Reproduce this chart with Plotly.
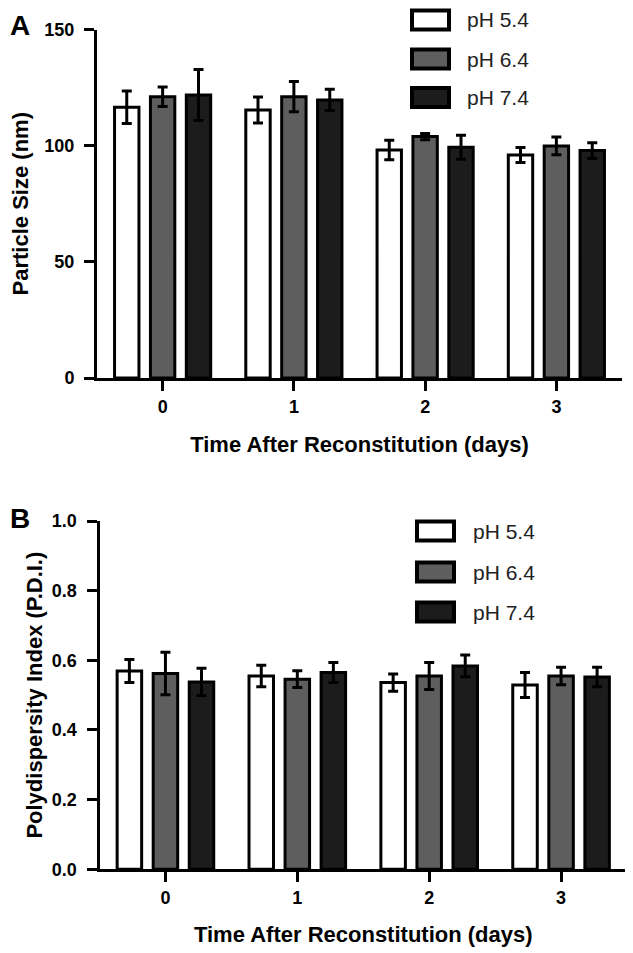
import plotly.graph_objects as go

# ---------------- data ----------------
days = ["0", "1", "2", "3"]
series = ["pH 5.4", "pH 6.4", "pH 7.4"]

size_ph54 = [116.5, 115.4, 98.1, 96.0]
size_ph54_err = [7.0, 5.6, 4.2, 3.2]
size_ph64 = [121.1, 121.1, 103.9, 99.9]
size_ph64_err = [4.2, 6.5, 1.3, 3.8]
size_ph74 = [121.8, 119.7, 99.3, 97.9]
size_ph74_err = [11.0, 4.6, 5.2, 3.4]

pdi_ph54 = [0.569, 0.555, 0.536, 0.529]
pdi_ph54_err = [0.033, 0.031, 0.025, 0.036]
pdi_ph64 = [0.562, 0.546, 0.555, 0.555]
pdi_ph64_err = [0.061, 0.024, 0.039, 0.025]
pdi_ph74 = [0.538, 0.565, 0.584, 0.552]
pdi_ph74_err = [0.039, 0.029, 0.031, 0.028]

# ---------------- style ----------------
W, H = 633, 953
OFF = 8  # page body margin offset
FONT = "Liberation Sans, Arial, sans-serif"
fills = ["#ffffff", "#5e5e5e", "#1c1c1c"]

def px_x(p):
    return (p - OFF) / W

def px_y(p):
    return 1 - (p - OFF) / H

fig = go.Figure()

xpos = list(range(len(days)))
panelA = [(size_ph54, size_ph54_err), (size_ph64, size_ph64_err), (size_ph74, size_ph74_err)]
panelB = [(pdi_ph54, pdi_ph54_err), (pdi_ph64, pdi_ph64_err), (pdi_ph74, pdi_ph74_err)]

for (vals, errs), name, col in zip(panelA, series, fills):
    fig.add_trace(go.Bar(
        x=xpos, y=vals, name=name, xaxis="x", yaxis="y",
        marker=dict(color=col, line=dict(color="black", width=3)),
        error_y=dict(type="data", array=errs, visible=True, color="black",
                     thickness=3, width=5),
        showlegend=False,
    ))

for (vals, errs), name, col in zip(panelB, series, fills):
    fig.add_trace(go.Bar(
        x=xpos, y=vals, name=name, xaxis="x2", yaxis="y2",
        marker=dict(color=col, line=dict(color="black", width=3)),
        error_y=dict(type="data", array=errs, visible=True, color="black",
                     thickness=3, width=5),
        showlegend=False,
    ))

axis_common = dict(
    showline=True, linecolor="black", linewidth=3,
    ticks="outside", ticklen=10, tickwidth=3, tickcolor="black",
    showgrid=False, zeroline=False, automargin=False,
    tickfont=dict(family=FONT, size=18, color="black", weight="bold"),
    title_font=dict(family=FONT, size=22, color="black", weight="bold"),
)

xtitle = "Time After Reconstitution (days)"

fig.update_layout(
    template="none",
    width=W, height=H,
    margin=dict(l=0, r=0, t=0, b=0),
    paper_bgcolor="white", plot_bgcolor="white",
    barmode="group", bargap=0.18, bargroupgap=0.32,
    showlegend=False,
    xaxis=dict(domain=[px_x(97), px_x(622)], range=[-0.5, 3.5],
               tickvals=xpos, ticktext=days, anchor="y",
               title=dict(text=xtitle, standoff=22), **axis_common),
    yaxis=dict(domain=[px_y(378), px_y(29.5)], range=[0, 150],
               tickvals=[0, 50, 100, 150], anchor="x",
               ticklabelstandoff=6,
               title=dict(text="Particle Size (nm)", standoff=21), **axis_common),
    xaxis2=dict(domain=[px_x(99.5), px_x(627)], range=[-0.5, 3.5],
                tickvals=xpos, ticktext=days, anchor="y2",
                title=dict(text=xtitle, standoff=20), **axis_common),
    yaxis2=dict(domain=[px_y(869.3), px_y(521)], range=[0, 1.0],
                tickvals=[0, 0.2, 0.4, 0.6, 0.8, 1.0], tickformat=".1f",
                anchor="x2", ticklabelstandoff=6,
                title=dict(text="Polydispersity Index (P.D.I.)", standoff=4),
                **axis_common),
)

# ---------------- panel letters ----------------
fig.add_annotation(x=0, y=1, xref="paper", yref="paper",
                   xanchor="left", yanchor="top", showarrow=False,
                   text="<b>A</b>", font=dict(family=FONT, size=28, color="black"))
fig.add_annotation(x=0, y=px_y(518), xref="paper", yref="paper",
                   xanchor="left", yanchor="middle", showarrow=False,
                   text="<b>B</b>", font=dict(family=FONT, size=28, color="black"))

# ---------------- legends (manual, large swatches) ----------------
legend_specs = [
    (412, 449, [20, 59, 97.5], 465),
    (417, 454, [531, 572, 612], 471),
]
for bx0, bx1, centers, tx in legend_specs:
    for name, col, cy in zip(series, fills, centers):
        fig.add_shape(type="rect", xref="paper", yref="paper",
                      x0=px_x(bx0), x1=px_x(bx1),
                      y0=px_y(cy + 9.5), y1=px_y(cy - 9.5),
                      line=dict(color="black", width=4), fillcolor=col)
        fig.add_annotation(x=px_x(tx), y=px_y(cy), xref="paper", yref="paper",
                           xanchor="left", yanchor="middle", showarrow=False,
                           text=name,
                           font=dict(family=FONT, size=21, color="#222222"))

fig.write_html("out.html")
